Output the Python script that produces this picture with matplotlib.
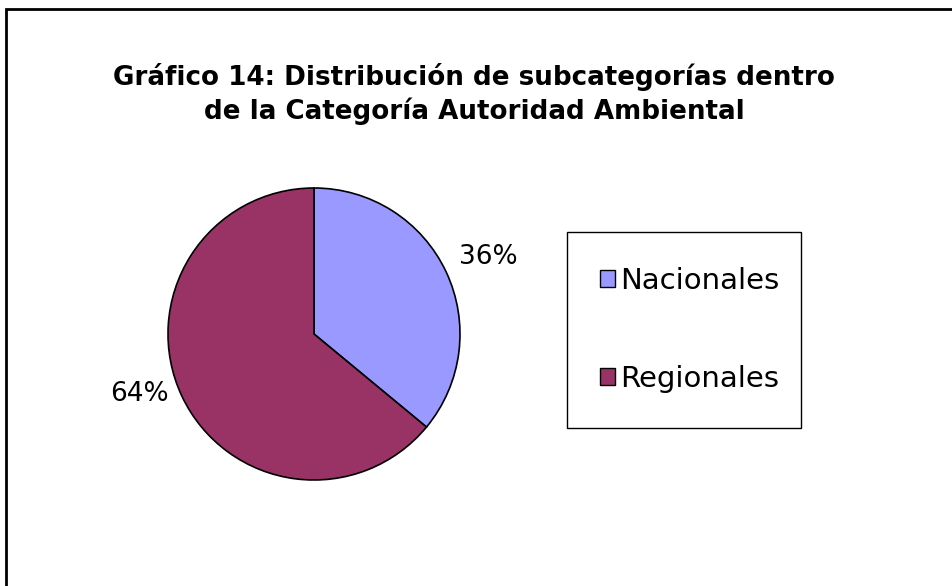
import numpy as np
import matplotlib.pyplot as plt
from matplotlib.patches import Rectangle, Patch

# ---------------------------------
# Data
# ---------------------------------
categories = ["Nacionales", "Regionales"]
shares = [36, 64]
colors = ["#9999FF", "#993366"]

title = "Gráfico 14: Distribución de subcategorías dentro\nde la Categoría Autoridad Ambiental"

W, H = 952, 586
plt.rcParams['font.family'] = ['DejaVu Sans']

fig = plt.figure(figsize=(W / 100, H / 100), dpi=100)

# outer chart border (right and bottom run off the image)
fig.patches.append(Rectangle((6 / W, -0.05), 1.0, 1 - 9 / H + 0.05,
                             transform=fig.transFigure, fill=False,
                             edgecolor="black", linewidth=2))

fig.text(474 / W, 1 - 94 / H, title, ha="center", va="center",
         fontsize=18.8, fontweight="bold", linespacing=1.33)

# pie
cx, cy, r = 314, 334, 146
ax = fig.add_axes([(cx - r) / W, (H - cy - r) / H, 2 * r / W, 2 * r / H])
wedges, texts, pcts = ax.pie(shares, colors=colors, startangle=90, counterclock=False,
                             autopct="%d%%", pctdistance=1.2,
                             wedgeprops=dict(edgecolor="black", linewidth=1.2),
                             textprops=dict(fontsize=19))
# outside-end label placement
for w, t in zip(wedges, pcts):
    mid = np.deg2rad((w.theta1 + w.theta2) / 2)
    x, y = 1.1 * np.cos(mid), 1.1 * np.sin(mid) + 0.06
    t.set_position((x, y))
    t.set_ha("left" if x > 0 else "right")
    t.set_va("center")
ax.set_xlim(-1, 1)
ax.set_ylim(-1, 1)
ax.set_aspect("equal")
ax.axis("off")

# legend box
lx0, ly0, lx1, ly1 = 567, 232, 801, 428
fig.patches.append(Rectangle((lx0 / W, 1 - ly1 / H), (lx1 - lx0) / W, (ly1 - ly0) / H,
                             transform=fig.transFigure, fill=False,
                             edgecolor="black", linewidth=1))
handles = [Patch(facecolor=c, edgecolor="black", linewidth=1) for c in colors]
fig.legend(handles, categories, loc="center", frameon=False,
           bbox_to_anchor=(690 / W, 1 - 330 / H),
           fontsize=21, handlelength=0.52, handleheight=0.52,
           handletextpad=0.18, labelspacing=2.4, borderpad=0)

fig.savefig("out.png", dpi=100, facecolor="white")
